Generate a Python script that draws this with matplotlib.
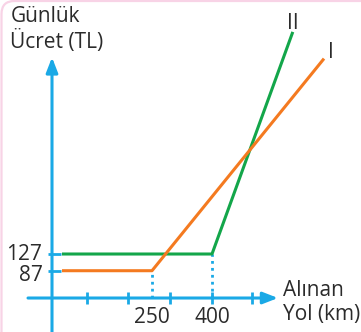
import matplotlib.pyplot as plt
from matplotlib.patches import FancyBboxPatch
from matplotlib.transforms import IdentityTransform

plt.rcParams['font.family'] = ['Open Sans', 'DejaVu Sans']

# data
x_I = [25, 250, 680]
y_I = [87, 87, 595]
x_II = [25, 400, 602]
y_II = [127, 127, 659]
y_ticks = [87, 127]
x_ticks = [87.5, 190, 295, 400, 500]
x_labels = {250: '250', 400: '400'}

blue = '#1aa9e6'
green = '#13a64a'
orange = '#f47a20'
txt = '#2b2b2b'

fig = plt.figure(figsize=(3.61, 3.32), dpi=100)
ax = fig.add_axes([0, 0, 1, 1])
ax.set_xlim(-130, 772.5)
ax.set_ylim(-59.8, 735.4)
ax.axis('off')

x_axis_y = 21.6

# axes with arrows
ax.annotate('', xy=(565, x_axis_y), xytext=(-60, x_axis_y),
            arrowprops=dict(arrowstyle='-|>,head_length=0.9,head_width=0.35',
                            color=blue, lw=2.2, shrinkA=0, shrinkB=0))
ax.annotate('', xy=(0, 598), xytext=(0, -70),
            arrowprops=dict(arrowstyle='-|>,head_length=0.9,head_width=0.35',
                            color=blue, lw=2.2, shrinkA=0, shrinkB=0))

for xt in x_ticks:
    ax.plot([xt, xt], [x_axis_y - 14, x_axis_y + 14], color=blue, lw=2, solid_capstyle='butt')
for yt in y_ticks:
    ax.plot([-11, 22], [yt, yt], color=blue, lw=2, solid_capstyle='butt')

# dotted guides
ax.plot([250, 250], [x_axis_y, 87], color=blue, lw=2, ls=(0, (1, 1.5)))
ax.plot([400, 400], [x_axis_y, 127], color=blue, lw=2, ls=(0, (1, 1.5)))

ax.plot(x_II, y_II, color=green, lw=2.2, solid_capstyle='butt')
ax.plot(x_I, y_I, color=orange, lw=2.2, solid_capstyle='butt')

# labels
fs = 15
ax.text(-24, 127, '127', ha='right', va='center', fontsize=fs, color=txt)
ax.text(-24, 76, '87', ha='right', va='center', fontsize=fs, color=txt)
for xv, lab in x_labels.items():
    ax.text(xv, -26, lab, ha='center', va='center', fontsize=fs, color=txt)

ax.text(-104, 720, 'Günlük\nÜcret (TL)', ha='left', va='top', fontsize=15,
        color=txt, linespacing=1.15)
ax.text(578, 64, 'Alınan\nYol (km)', ha='left', va='top', fontsize=15,
        color=txt, linespacing=1.15)
ax.text(602, 678, 'II', ha='center', va='center', fontsize=15, color=txt)
ax.text(697, 610, 'I', ha='center', va='center', fontsize=15, color=txt)

# pink frame corner
frame = FancyBboxPatch((1.5, -40), 500, 371, boxstyle='round,pad=0,rounding_size=13',
                       transform=IdentityTransform(), fill=False,
                       edgecolor='#f8d3e6', lw=1.6, clip_on=False)
fig.patches.append(frame)

fig.savefig('out.png', dpi=100)
